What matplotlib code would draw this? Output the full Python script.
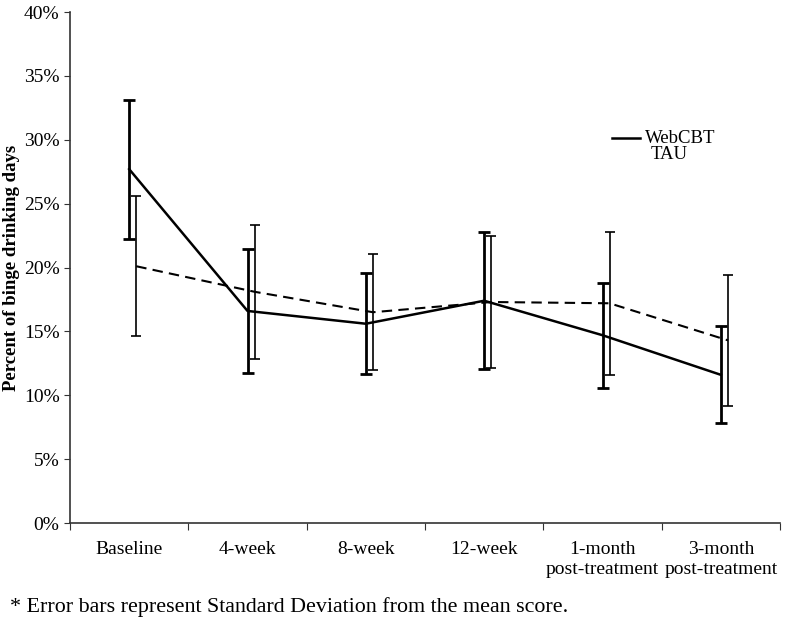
import matplotlib.pyplot as plt
import numpy as np
from matplotlib.ticker import PercentFormatter

plt.rcParams['font.family'] = ['Liberation Serif', 'DejaVu Serif']

# Data
categories = ["Baseline", "4-week", "8-week", "12-week",
              "1-month\npost-treatment", "3-month\npost-treatment"]
webcbt_mean = [27.7, 16.6, 15.6, 17.4, 14.7, 11.6]
webcbt_sd = [5.45, 4.85, 3.95, 5.35, 4.1, 3.8]
tau_mean = [20.1, 18.1, 16.5, 17.3, 17.2, 14.3]
tau_sd = [5.5, 5.25, 4.55, 5.2, 5.6, 5.15]

fig = plt.figure(figsize=(8, 6.23), dpi=100)
ax = fig.add_axes([0.0875, 0.1605, 0.8875, 0.8202])

x = np.arange(len(categories))
offset = 0.06

# WebCBT: solid line, heavier error bars
ax.errorbar(x, webcbt_mean, yerr=webcbt_sd, color='black', lw=1.8,
            elinewidth=2.0, capsize=4.5, capthick=2.0, label='WebCBT')
# TAU: dashed line, thinner error bars
ax.errorbar(x + offset, tau_mean, yerr=tau_sd, color='black', lw=1.5,
            ls='--', dashes=(5, 3), elinewidth=1.2, capsize=3.5,
            capthick=1.2)

ax.set_xlim(-0.5, len(categories) - 0.5)
ax.set_ylim(0, 40)
ax.set_yticks(np.arange(0, 41, 5))
ax.yaxis.set_major_formatter(PercentFormatter(decimals=0))
ax.set_xticks(np.arange(-0.5, len(categories), 1.0))
ax.set_xticklabels([])
ax.set_xticks(x, minor=True)
ax.set_xticklabels(categories, minor=True, fontsize=14)
ax.tick_params(axis='x', which='minor', length=0, pad=13)
ax.tick_params(axis='x', which='major', direction='out', length=5, color='#333333')
ax.tick_params(axis='y', direction='out', length=4, labelsize=14, color='#333333')

for side in ['top', 'right']:
    ax.spines[side].set_visible(False)
for side in ['left', 'bottom']:
    ax.spines[side].set_color('#333333')
    ax.spines[side].set_linewidth(1.2)

ax.set_ylabel('Percent of binge drinking days', fontsize=13.5,
              fontweight='bold', labelpad=3)

# Legend (TAU shown as text only, like the original)
ax.plot([0.763, 0.803], [0.753, 0.753], transform=ax.transAxes,
        color='black', lw=1.8)
ax.text(0.81, 0.753, 'WebCBT', transform=ax.transAxes, fontsize=13.5,
        va='center', ha='left')
ax.text(0.818, 0.722, 'TAU', transform=ax.transAxes, fontsize=13.5,
        va='center', ha='left')

fig.text(0.012, 0.026, '* Error bars represent Standard Deviation from the mean score.',
         fontsize=15.8, ha='left', va='center')

fig.savefig('out.png', dpi=100, facecolor='white')
